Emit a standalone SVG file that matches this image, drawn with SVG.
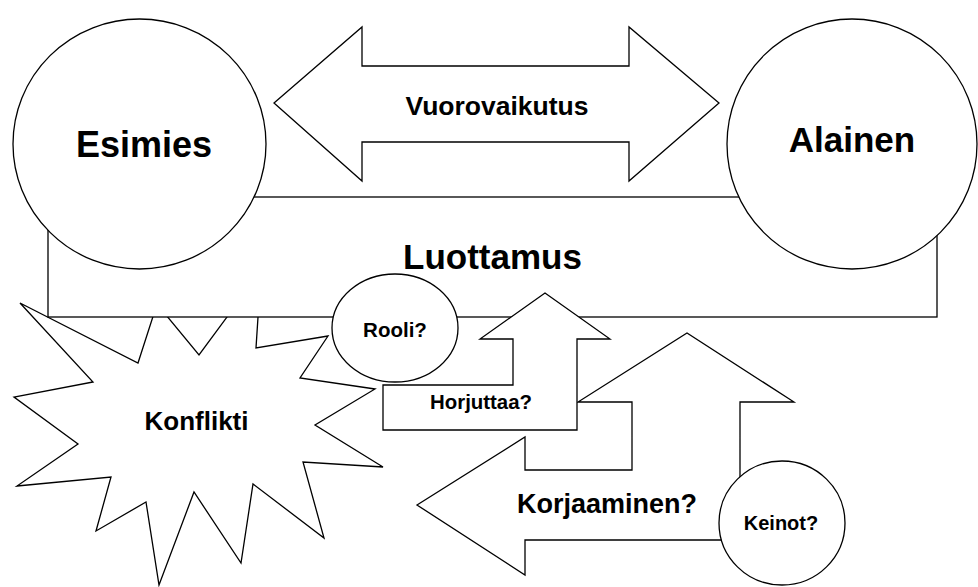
<svg xmlns="http://www.w3.org/2000/svg" width="978" height="587" viewBox="0 0 978 587">
<style>
.s{fill:#fff;stroke:#000;stroke-width:1.3;stroke-linejoin:miter}
.t{font-family:"Liberation Sans",Arial,sans-serif;font-weight:bold;fill:#000;text-anchor:middle}
</style>
<rect width="978" height="587" fill="#fff"/>
<g id="konflikti">
<polygon class="s" points="20,303 138,363 157,304 199,355 261,271 256,348 328,336 300,378 375,389 315,425 383,467 303,462 324,538 253,484 241,563 194,492 159,585 146,502 96,531 111,477 17,486 78,444 14,397 93,382"/>
<text class="t" x="196.5" y="430" font-size="26">Konflikti</text>
</g>
<g id="luottamus">
<rect class="s" x="48" y="197" width="889" height="120"/>
<text class="t" x="492.5" y="269" font-size="35">Luottamus</text>
</g>
<g id="esimies">
<ellipse class="s" cx="139.5" cy="144" rx="126.5" ry="125"/>
<text class="t" x="144" y="157" font-size="36">Esimies</text>
</g>
<g id="alainen">
<ellipse class="s" cx="852" cy="144" rx="125" ry="125"/>
<text class="t" x="852" y="152" font-size="35">Alainen</text>
</g>
<g id="vuorovaikutus">
<polygon class="s" points="274,103 362,27 362,66 629,66 629,27 719,103 629,181 629,142 362,142 362,181"/>
<text class="t" x="497" y="115" font-size="26.5">Vuorovaikutus</text>
</g>
<g id="korjaaminen">
<polygon class="s" points="417,505 525,437 525,470 632,470 632,402 578,402 687,333 794,402 740,402 740,540 525,540 525,575"/>
<text class="t" x="607" y="513" font-size="27">Korjaaminen?</text>
</g>
<g id="horjuttaa">
<polygon class="s" points="383,385 513,385 513,339 480,339 545,293 610,339 577,339 577,430 383,430"/>
<text class="t" x="481" y="409" font-size="20.4">Horjuttaa?</text>
</g>
<g id="rooli">
<ellipse class="s" cx="395" cy="328" rx="63" ry="54"/>
<text class="t" x="395" y="337" font-size="20.5">Rooli?</text>
</g>
<g id="keinot">
<ellipse class="s" cx="782" cy="523" rx="63" ry="62"/>
<text class="t" x="781" y="530" font-size="20">Keinot?</text>
</g>
<g id="connectors"/>
</svg>
